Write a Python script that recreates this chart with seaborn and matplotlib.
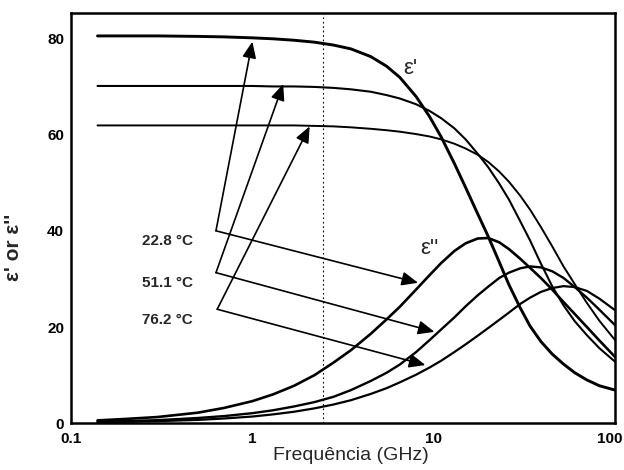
import numpy as np
import pandas as pd
import matplotlib
matplotlib.use("Agg")
import matplotlib.pyplot as plt
import matplotlib.transforms as mtransforms
from matplotlib.ticker import LogLocator, NullFormatter
import seaborn as sns

# Frequency grid (GHz) at which the curves are tabulated
freq_ghz = [0.14, 0.2, 0.3, 0.5, 0.7, 1, 1.3, 1.7, 2.2, 2.8, 3.5, 4.5, 5.5, 6.5,
            8, 9.5, 11, 13, 15, 17.5, 20, 23, 26, 30, 34, 39, 45, 52, 60, 70,
            82, 100]

# Real part of permittivity (eps') for each water temperature
eps_real_228 = [80.5, 80.5, 80.5, 80.4, 80.3, 80.1, 79.9, 79.6, 79.2, 78.6,
                77.8, 76.2, 74.2, 71.9, 67.9, 63.7, 59.5, 54.0, 49.0, 43.5,
                38.8, 33.5, 28.8, 24.0, 20.2, 17.0, 14.4, 12.3, 10.5, 9.0,
                7.8, 6.9]
eps_real_511 = [70.1, 70.1, 70.1, 70.1, 70.1, 70.1, 70.0, 70.0, 69.9, 69.7,
                69.4, 68.9, 68.2, 67.5, 66.3, 64.9, 63.4, 61.3, 59.0, 56.0,
                53.2, 49.8, 46.5, 42.0, 38.0, 33.2, 28.5, 24.5, 21.2, 18.3,
                15.6, 12.8]
eps_real_762 = [61.9, 61.9, 61.9, 61.9, 61.9, 61.9, 61.9, 61.9, 61.8, 61.7,
                61.5, 61.2, 60.9, 60.6, 60.1, 59.6, 59.0, 58.1, 57.1, 55.8,
                54.3, 52.3, 50.2, 47.3, 44.4, 40.8, 36.8, 32.6, 28.9, 25.0,
                21.3, 17.3]

# Imaginary part of permittivity (eps'') for each water temperature
eps_imag_228 = [0.6, 0.9, 1.3, 2.2, 3.2, 4.6, 6.0, 7.8, 10.0, 12.6, 15.2, 18.6,
                21.6, 24.2, 27.8, 30.8, 33.3, 35.8, 37.4, 38.4, 38.5, 37.6,
                36.2, 34.2, 32.3, 30.2, 27.8, 25.2, 22.7, 20.0, 17.2, 13.8]
eps_imag_511 = [0.3, 0.45, 0.65, 1.1, 1.5, 2.1, 2.7, 3.5, 4.4, 5.5, 6.9, 8.8,
                10.5, 12.2, 14.8, 17.3, 19.5, 22.0, 24.3, 26.6, 28.4, 30.2,
                31.3, 32.2, 32.6, 32.4, 31.6, 30.2, 28.3, 26.1, 23.6, 20.4]
eps_imag_762 = [0.2, 0.3, 0.45, 0.7, 1.0, 1.4, 1.85, 2.4, 3.1, 3.9, 4.8, 6.1,
                7.3, 8.5, 10.1, 11.6, 13.0, 14.8, 16.4, 18.2, 19.8, 21.5, 23.0,
                24.8, 26.1, 27.3, 28.1, 28.5, 28.3, 27.5, 25.9, 23.5]

temp_labels = ["22.8 \u00b0C", "51.1 \u00b0C", "76.2 \u00b0C"]

# Arrow geometry for the temperature call-outs (GHz, permittivity)
corner_freq = [0.63, 0.63, 0.64]
corner_val = [40.0, 31.3, 23.7]
tip_real_freq = [1.0, 1.48, 2.07]
tip_real_val = [79.3, 70.5, 61.7]
tip_imag_freq = [8.2, 10.1, 9.0]
tip_imag_val = [29.2, 19.0, 12.1]

oven_freq = 2.45  # microwave-oven frequency marker

xtick_vals = [0.1, 1, 10, 100]
xtick_text = ["0.1", "1", "10", "100"]
ytick_vals = [0, 20, 40, 60, 80]

# Long-form table of all curves
rows = []
series = {
    ("real", temp_labels[0]): eps_real_228,
    ("real", temp_labels[1]): eps_real_511,
    ("real", temp_labels[2]): eps_real_762,
    ("imag", temp_labels[0]): eps_imag_228,
    ("imag", temp_labels[1]): eps_imag_511,
    ("imag", temp_labels[2]): eps_imag_762,
}
for (part, temp), vals in series.items():
    for f, v in zip(freq_ghz, vals):
        rows.append({"freq": f, "value": v, "part": part, "temp": temp})
df = pd.DataFrame(rows)

sns.set_style("white")
plt.rcParams["font.family"] = ["Liberation Sans", "DejaVu Sans"]

fig = plt.figure(figsize=(6.24, 4.70), dpi=100)
ax = fig.add_axes([0.1138, 0.0994, 0.8718, 0.8723])

widths = {
    ("real", temp_labels[0]): 2.1,
    ("real", temp_labels[1]): 1.5,
    ("real", temp_labels[2]): 1.4,
    ("imag", temp_labels[0]): 1.9,
    ("imag", temp_labels[1]): 1.7,
    ("imag", temp_labels[2]): 1.6,
}
for (part, temp), sub in df.groupby(["part", "temp"]):
    sns.lineplot(data=sub, x="freq", y="value", ax=ax, color="black",
                 lw=widths[(part, temp)], estimator=None, legend=False)

ax.set_xscale("log")
ax.set_xlim(0.1, 100)
ax.set_ylim(0, 85.2)

# Oven frequency marker
ax.axvline(oven_freq, color="black", lw=0.8, ls=(0, (1.5, 2.5)))

# Temperature call-outs with arrows to both curves
for i, lab in enumerate(temp_labels):
    ax.text(0.47, corner_val[i] - 2.2, lab, ha="right", va="center",
            fontsize=11, fontweight="bold")
    for tx, ty in ((tip_real_freq[i], tip_real_val[i]),
                   (tip_imag_freq[i], tip_imag_val[i])):
        ax.annotate("", xy=(tx, ty), xytext=(corner_freq[i], corner_val[i]),
                    arrowprops=dict(arrowstyle="-|>,head_length=0.7,head_width=0.3",
                                    color="black", lw=1.2, mutation_scale=14,
                                    shrinkA=0, shrinkB=0))

ax.text(7.4, 73.8, "\u03b5'", fontsize=16, ha="center", va="center")
ax.text(9.5, 36.4, "\u03b5''", fontsize=16, ha="center", va="center")

ax.set_xticks(xtick_vals, labels=xtick_text)
ax.xaxis.set_minor_locator(LogLocator(base=10, subs=np.arange(2, 10)))
ax.xaxis.set_minor_formatter(NullFormatter())
ax.set_yticks(ytick_vals)
ax.tick_params(axis="both", which="major", direction="in", length=6,
               width=1.2, labelsize=11, pad=5, colors="black")
ax.tick_params(axis="x", which="minor", direction="in", length=4, width=1.0)
ax.tick_params(axis="x", which="major", pad=6)
for lbl in ax.get_xticklabels() + ax.get_yticklabels():
    lbl.set_fontweight("bold")
# keep the last frequency label inside the canvas
last = ax.get_xticklabels()[-1]
last.set_transform(last.get_transform()
                   + mtransforms.ScaledTranslation(-5 / 100, 0, fig.dpi_scale_trans))

for sp in ax.spines.values():
    sp.set_visible(True)
    sp.set_color("black")
    sp.set_linewidth(1.8)

ax.set_xlabel("Frequ\u00eancia (GHz)", fontsize=14)
ax.set_ylabel("\u03b5' or \u03b5''", fontsize=15, fontweight="bold")
ax.xaxis.set_label_coords(0.515, -0.059)
ax.yaxis.set_label_coords(-0.088, 0.43)

fig.savefig("out.png", dpi=100)
